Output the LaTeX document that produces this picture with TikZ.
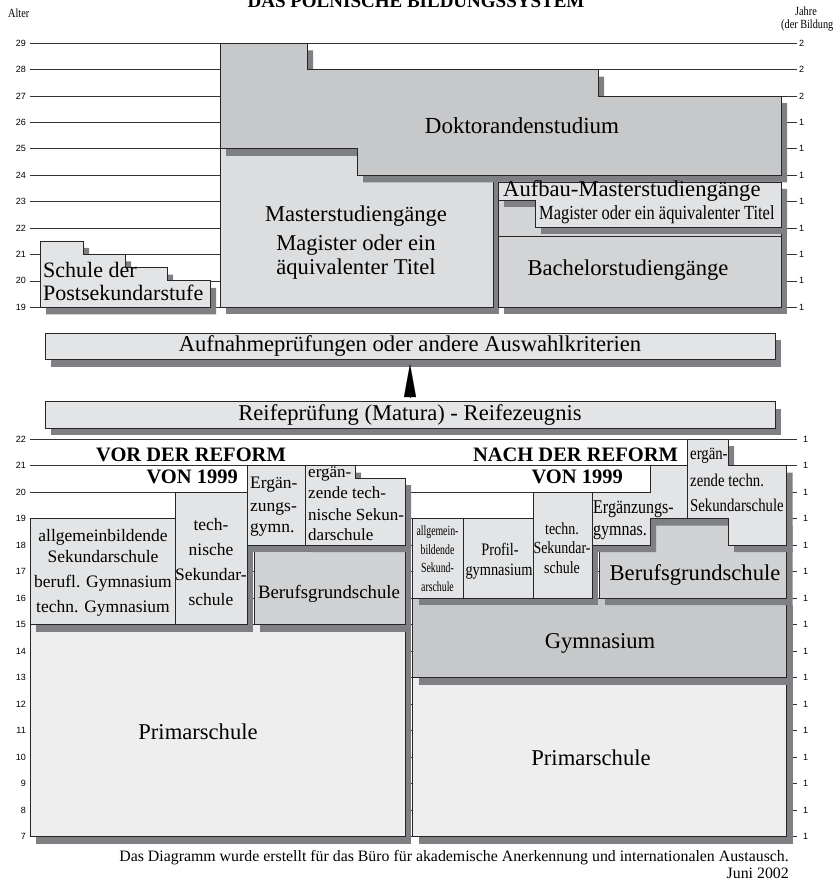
\documentclass[tikz,border=0pt]{standalone}
\usepackage{fontspec}
\setmainfont{Liberation Serif}
\newfontfamily\condfont[FakeStretch=0.82]{Liberation Serif}
\newfontfamily\xcondfont[FakeStretch=0.7]{Liberation Serif}
\newfontfamily\axisfont{Liberation Sans}
\usetikzlibrary{shadows,arrows.meta}
\definecolor{shade}{HTML}{7F8084}
\definecolor{doktor}{HTML}{C7C8CA}
\definecolor{master}{HTML}{DCDDDF}
\definecolor{pale}{HTML}{EDEEED}
\definecolor{boxlight}{HTML}{E3E4E6}
\definecolor{boxmid}{HTML}{D0D1D3}
\definecolor{aufbau}{HTML}{E1E2E4}
\definecolor{bachelor}{HTML}{D3D4D6}
\newcommand\fsz[1]{\fontsize{#1pt}{#1pt}\selectfont}
\tikzstyle{block} = [draw=black!85, line width=0.9pt, drop shadow={shadow xshift=6pt, shadow yshift=-7pt, opacity=1, fill=shade}]
\tikzstyle{blockns} = [draw=black!85, line width=0.9pt]
\tikzstyle{bar} = [block, fill=boxlight, minimum width=730pt, minimum height=26.5pt, inner sep=0pt, font=\fsz{22.6}]
\tikzstyle{txt} = [inner sep=0pt, anchor=base]
\tikzstyle{gridline} = [draw=black!80, line width=0.8pt]

\begin{document}
\begin{tikzpicture}[x=1pt,y=-1pt,>=latex]
		\useasboundingbox (0,0) rectangle (832,882);
		\clip (0,0) rectangle (832,882);
		
		% titles and axis heads
		\node[txt, font=\bfseries\fsz{19}] (title) at (416,7.5) {DAS POLNISCHE BILDUNGSSYSTEM};
		\node[txt, anchor=base west, font=\condfont\fsz{12.5}] (alter) at (8,18) {Alter};
		\node[txt, font=\condfont\fsz{12.5}] (jahre) at (806,16) {Jahre};
		\node[txt, anchor=base west, font=\condfont\fsz{12.5}] (bildung) at (781,28.5) {(der Bildung)};
		
		% upper grid
		\foreach \a/\j in {29/2,28/2,27/2,26/1,25/1,24/1,23/1,22/1,21/1,20/1,19/1}{
			\pgfmathsetmacro\yy{307.3-(\a-19)*26.4}
			\draw[gridline] (30,\yy) -- (797,\yy);
			\node[anchor=east, inner sep=0pt, font=\axisfont\fsz{9}] (ua\a) at (26,\yy) {\a};
			\node[anchor=west, inner sep=0pt, font=\axisfont\fsz{9}] (uj\a) at (799,\yy) {\j};
		}
		
		% upper boxes
		\draw[block, fill=boxlight] (40,307.3) -- (40,241) -- (83,241) -- (83,254.5) -- (125,254.5) -- (125,267.7) -- (167,267.7) -- (167,280.9) -- (210,280.9) -- (210,307.3) -- cycle;
		\draw[block, fill=master] (220,148.9) rectangle (493,307.3);
		\draw[block, fill=bachelor] (498,182) rectangle (781,307.3);
		\draw[block, fill=doktor] (220,43.3) -- (307,43.3) -- (307,69.7) -- (598,69.7) -- (598,96.1) -- (781,96.1) -- (781,175.3) -- (357,175.3) -- (357,148.9) -- (220,148.9) -- cycle;
		\draw[block, fill=aufbau] (498,182) -- (781,182) -- (781,227) -- (535,227) -- (535,200) -- (498,200) -- cycle;
		\draw[blockns, fill=bachelor] (498,236) rectangle (781,307.3);
		
		\node[txt, font=\fsz{23}] (dok) at (522,134) {Doktorandenstudium};
		\node[txt, font=\fsz{22.6}] (mast1) at (356,222) {Masterstudiengänge};
		\node[txt, font=\fsz{22.6}] (mast2) at (356,251) {Magister oder ein};
		\node[txt, font=\fsz{22.6}] (mast3) at (356,274.5) {äquivalenter Titel};
		\node[txt, anchor=base west, font=\fsz{22.6}] (aufb) at (503,197) {Aufbau-Masterstudiengänge};
		\node[txt, anchor=base west, font=\condfont\fsz{20}] (aufbm) at (539,220) {Magister oder ein äquivalenter Titel};
		\node[txt, font=\fsz{22.6}] (bach) at (628,275.5) {Bachelorstudiengänge};
		\node[txt, anchor=base west, font=\fsz{22}] (post1) at (43,277) {Schule der};
		\node[txt, anchor=base west, font=\fsz{22}] (post2) at (43,300.5) {Postsekundarstufe};
		
		% entrance bars
		\node[bar] (aufn) at (410,346.3) {Aufnahmeprüfungen oder andere Auswahlkriterien};
		\node[bar] (reife) at (410,415) {Reifeprüfung (Matura) - Reifezeugnis};
		\draw[-{Triangle[width=12pt,length=33pt]}, line width=0.1pt, shorten <=4pt, shorten >=4pt] (reife.north) -- (aufn.south);
		
		% lower grid
		\foreach \a in {22,21,...,7}{
			\pgfmathsetmacro\yy{836.5-(\a-7)*26.5}
			\draw[gridline] (30,\yy) -- (797,\yy);
			\node[anchor=east, inner sep=0pt, font=\axisfont\fsz{9}] (la\a) at (26,\yy) {\a};
			\node[anchor=west, inner sep=0pt, font=\axisfont\fsz{9}] (lj\a) at (803,\yy) {1};
		}
		
		% before the reform
		\draw[block, fill=pale] (30,624.5) rectangle (405,836.5);
		\draw[block, fill=boxmid] (254,545) rectangle (405,624.5);
		\draw[block, fill=boxlight] (30,518.5) rectangle (175,624.5);
		\draw[block, fill=boxlight] (175,492) rectangle (247,624.5);
		\draw[block, fill=boxlight] (247,465.5) rectangle (305,545);
		\draw[block, fill=boxlight] (305,465.5) -- (355,465.5) -- (355,478) -- (405,478) -- (405,545) -- (305,545) -- cycle;
		
		\node[txt, font=\fsz{22.6}] (prim1) at (198,739) {Primarschule};
		\node[txt, font=\fsz{18.8}] (beruf1) at (329,598) {Berufsgrundschule};
		\node[txt, font=\fsz{17.5}] (allg1) at (103,541) {allgemeinbildende};
		\node[txt, font=\fsz{17.5}] (allg2) at (103,562) {Sekundarschule};
		\node[txt, font=\fsz{17.5}] (allg3) at (103,587) {berufl. Gymnasium};
		\node[txt, font=\fsz{17.5}] (allg4) at (103,612) {techn. Gymnasium};
		\node[txt, font=\fsz{17.5}] (tech1) at (211,530) {tech-};
		\node[txt, font=\fsz{17.5}] (tech2) at (211,555) {nische};
		\node[txt, font=\fsz{17.5}] (tech3) at (211,580) {Sekundar-};
		\node[txt, font=\fsz{17.5}] (tech4) at (211,605) {schule};
		\node[txt, anchor=base west, font=\fsz{17.5}] (egym1) at (250,488) {Ergän-};
		\node[txt, anchor=base west, font=\fsz{17.5}] (egym2) at (250,511.5) {zungs-};
		\node[txt, anchor=base west, font=\fsz{17.5}] (egym3) at (250,532) {gymn.};
		\node[txt, anchor=base west, font=\fsz{17}] (etec1) at (308,477) {ergän-};
		\node[txt, anchor=base west, font=\fsz{17}] (etec2) at (308,498.5) {zende tech-};
		\node[txt, anchor=base west, font=\fsz{17}] (etec3) at (308,520) {nische Sekun-};
		\node[txt, anchor=base west, font=\fsz{17}] (etec4) at (308,540) {darschule};
		
		% after the reform
		\draw[block, fill=pale] (412.5,677.5) rectangle (786.5,836.5);
		\draw[block, fill=doktor] (412.5,598) rectangle (786.5,677.5);
		\draw[block, fill=boxmid] (599,545) -- (650,545) -- (650,518.5) -- (786.5,518.5) -- (786.5,598) -- (599,598) -- cycle;
		\draw[block, fill=boxlight] (412.5,518.5) rectangle (463,598);
		\draw[block, fill=boxlight] (463,518.5) rectangle (533,598);
		\draw[block, fill=boxlight] (533,492) rectangle (592,598);
		\draw[block, fill=boxlight] (592,492) -- (650,492) -- (650,465.5) -- (687,465.5) -- (687,518.5) -- (650,518.5) -- (650,545) -- (592,545) -- cycle;
		\draw[block, fill=boxlight] (687,439) -- (728,439) -- (728,465.5) -- (786.5,465.5) -- (786.5,545) -- (728,545) -- (728,518.5) -- (687,518.5) -- cycle;
		
		\node[txt, font=\fsz{22.6}] (prim2) at (591,765.5) {Primarschule};
		\node[txt, font=\fsz{22.6}] (gym) at (600,648) {Gymnasium};
		\node[txt, font=\fsz{22.6}] (beruf2) at (695,580.5) {Berufsgrundschule};
		\node[txt, font=\xcondfont\fsz{14}] (allr1) at (437.5,535.5) {allgemein-};
		\node[txt, font=\xcondfont\fsz{14}] (allr2) at (437.5,554) {bildende};
		\node[txt, font=\xcondfont\fsz{14}] (allr3) at (437.5,572.5) {Sekund-};
		\node[txt, font=\xcondfont\fsz{14}] (allr4) at (437.5,591) {arschule};
		\node[txt, font=\condfont\fsz{17.5}] (prof1) at (500,555) {Profil-};
		\node[txt, font=\condfont\fsz{17.5}] (prof2) at (499,575) {gymnasium};
		\node[txt, font=\condfont\fsz{17}] (tecr1) at (562,534) {techn.};
		\node[txt, font=\condfont\fsz{17}] (tecr2) at (562,553) {Sekundar-};
		\node[txt, font=\condfont\fsz{17}] (tecr3) at (562,573) {schule};
		\node[txt, anchor=base west, font=\condfont\fsz{19.5}] (egr1) at (593,513) {Ergänzungs-};
		\node[txt, anchor=base west, font=\condfont\fsz{19.5}] (egr2) at (593,535) {gymnas.};
		\node[txt, anchor=base west, font=\condfont\fsz{18}] (etr1) at (690,459) {ergän-};
		\node[txt, anchor=base west, font=\condfont\fsz{18}] (etr2) at (690,486.5) {zende techn.};
		\node[txt, anchor=base west, font=\condfont\fsz{18}] (etr3) at (690,511) {Sekundarschule};
		
		% reform headings
		\node[txt, font=\bfseries\fsz{20.5}] (vor1) at (191,461.5) {VOR DER REFORM};
		\node[txt, anchor=base east, font=\bfseries\fsz{20.5}] (vor2) at (238,483) {VON 1999};
		\node[txt, font=\bfseries\fsz{20.5}] (nach1) at (575.5,461.5) {NACH DER REFORM};
		\node[txt, anchor=base east, font=\bfseries\fsz{20.5}] (nach2) at (623,483) {VON 1999};
		
		% footer
		\node[txt, anchor=base east, font=\fsz{15.85}] (foot1) at (789,861.5) {Das Diagramm wurde erstellt für das Büro für akademische Anerkennung und internationalen Austausch.};
		\node[txt, anchor=base east, font=\fsz{15.85}] (foot2) at (789,878) {Juni 2002};
	\end{tikzpicture}
\end{document}
